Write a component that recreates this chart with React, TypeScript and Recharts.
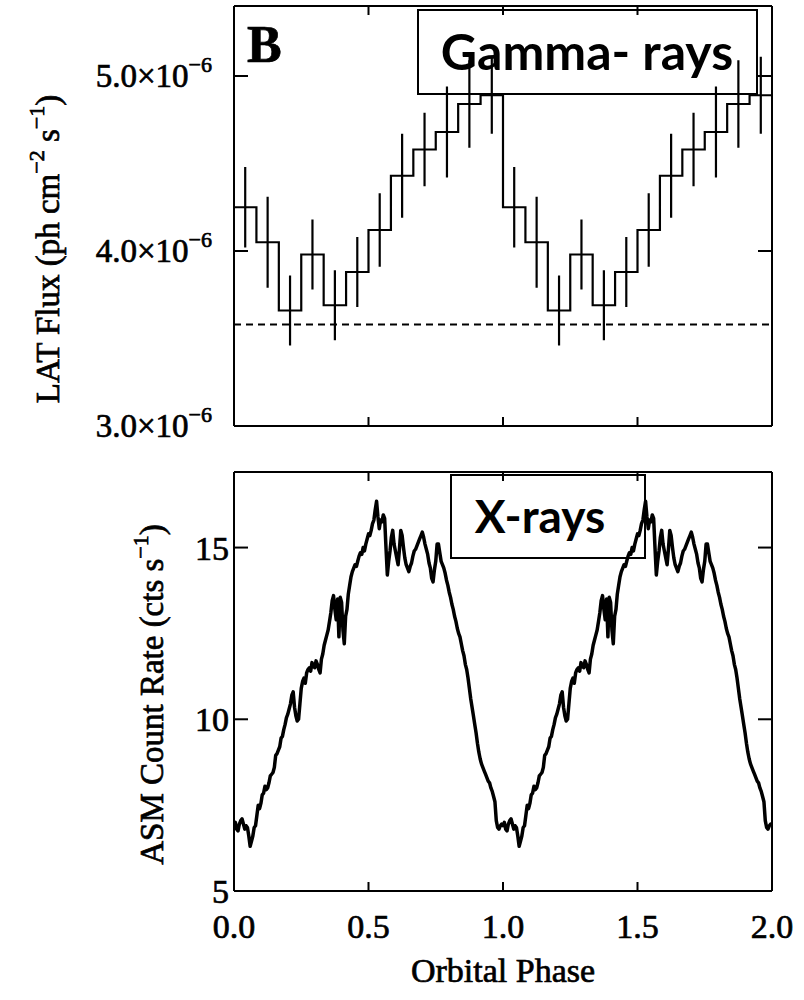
import React from 'react';
import { ComposedChart, Line, XAxis, YAxis, ErrorBar, ReferenceLine, Label } from 'recharts';

// LAT gamma-ray flux, folded on the orbital period (12 phase bins)
const latFlux = [4.25e-6, 4.05e-6, 3.66e-6, 3.98e-6, 3.69e-6, 3.88e-6, 4.12e-6, 4.43e-6, 4.58e-6, 4.68e-6, 4.84e-6, 4.89e-6];
const latErr = [0.23e-6, 0.26e-6, 0.2e-6, 0.2e-6, 0.2e-6, 0.2e-6, 0.21e-6, 0.24e-6, 0.21e-6, 0.26e-6, 0.25e-6, 0.22e-6];
const latBaseline = 3.58e-6;

// ASM count rate over one orbit, sampled every 0.005 in phase
const asmRate = [
  6.9, 7.0, 6.8, 6.75, 6.95, 7.05, 7.1, 6.95, 6.8, 6.9,
  6.85, 6.6, 6.3, 6.45, 6.6, 6.85, 6.9, 7.2, 7.5, 7.4,
  7.55, 7.8, 7.85, 8.05, 7.95, 8.0, 8.15, 8.35, 8.4, 8.45,
  8.6, 8.95, 9.0, 9.1, 9.2, 9.45, 9.5, 9.7, 9.85, 10.05,
  10.15, 10.3, 10.45, 10.7, 10.8, 10.35, 10.1, 9.95, 10.0, 10.45,
  10.9, 11.1, 11.2, 11.05, 11.35, 11.45, 11.5, 11.4, 11.65, 11.55,
  11.5, 11.7, 11.6, 11.45, 11.35, 11.75, 11.9, 12.15, 12.3, 12.45,
  12.6, 12.85, 13.1, 13.45, 13.6, 13.2, 12.9, 13.5, 12.4, 13.55,
  13.4, 12.6, 12.2, 13.0, 13.2, 13.65, 13.9, 14.15, 14.3, 14.4,
  14.5, 14.45, 14.6, 14.75, 14.85, 14.8, 15.0, 14.9, 15.1, 15.25,
  15.4, 15.35, 15.5, 15.7, 15.8, 16.1, 16.35, 15.9, 15.55, 15.8,
  15.75, 15.95, 15.85, 15.0, 14.2, 14.6, 14.9, 15.3, 15.5, 15.1,
  14.9, 14.7, 14.5, 14.95, 15.5, 15.35, 15.0, 14.7, 14.5, 14.4,
  14.3, 14.45, 14.55, 14.75, 14.9, 14.95, 15.05, 15.15, 15.25, 15.35,
  15.45, 15.3, 15.1, 14.95, 14.8, 14.55, 14.4, 14.1, 14.0, 14.35,
  14.6, 15.1, 15.1, 14.85, 14.6, 14.5, 14.4, 14.25, 14.05, 13.9,
  13.7, 13.55, 13.35, 13.2, 13.0, 12.85, 12.65, 12.5, 12.4, 12.2,
  12.0, 11.85, 11.6, 11.45, 11.2, 10.9, 10.6, 10.35, 10.1, 9.85,
  9.6, 9.3, 9.05, 8.85, 8.7, 8.6, 8.5, 8.4, 8.3, 8.2,
  8.15, 8.0, 7.9, 7.75, 7.6, 7.05, 6.85, 6.8, 6.9, 6.95,
];

const phaseTicks = [0, 0.5, 1, 1.5, 2];
const latTicks = [3e-6, 4e-6, 5e-6];
const asmTicks = [5, 10, 15];

const CYCLES = 2;

// histogram outline: one point per bin edge, drawn as stepAfter
const latSteps: { phase: number; flux: number }[] = [];
const latPoints: { phase: number; flux: number; err: number }[] = [];
for (let c = 0; c < CYCLES; c++) {
  latFlux.forEach((f, i) => {
    latSteps.push({ phase: c + i / latFlux.length, flux: f });
    latPoints.push({ phase: c + (i + 0.5) / latFlux.length, flux: f, err: latErr[i] });
  });
}
latSteps.push({ phase: CYCLES, flux: latFlux[latFlux.length - 1] });

const asmPoints: { phase: number; rate: number }[] = [];
for (let c = 0; c < CYCLES; c++) {
  asmRate.forEach((r, i) => asmPoints.push({ phase: c + i / asmRate.length, rate: r }));
}
asmPoints.push({ phase: CYCLES, rate: asmRate[0] });

// heavy print-style serif: a thin outline thickens the glyphs
const serif = {
  fontFamily: '"Liberation Serif", "Times New Roman", serif',
  stroke: '#000',
  strokeWidth: 0.7,
};
const sans = { fontFamily: 'Lato, "Liberation Sans", sans-serif', fontWeight: 700 };
const PLOT_W = 538;
const TOP_H = 420;
const BOT_H = 419;

const XTick = (props: any) => {
  const { x, y, payload, plotH, showLabel } = props;
  return (
    <g>
      <line x1={x} y1={y} x2={x} y2={y - 9} stroke="#000" strokeWidth={2} />
      <line x1={x} y1={y - plotH} x2={x} y2={y - plotH + 9} stroke="#000" strokeWidth={2} />
      {showLabel && (
        <text x={x} y={y + 47} textAnchor="middle" fontSize={34} style={serif} fill="#000">
          {payload.value.toFixed(1)}
        </text>
      )}
    </g>
  );
};

const YTickMarks = ({ x, y }: { x: number; y: number }) => (
  <>
    <line x1={x} y1={y} x2={x + 14} y2={y} stroke="#000" strokeWidth={2} />
    <line x1={x + PLOT_W} y1={y} x2={x + PLOT_W - 14} y2={y} stroke="#000" strokeWidth={2} />
  </>
);

const LatTick = (props: any) => {
  const { x, y, payload } = props;
  const mant = (payload.value * 1e6).toFixed(1);
  return (
    <g>
      <YTickMarks x={x} y={y} />
      <text x={x - 22} y={y + 11} textAnchor="end" fontSize={33} style={serif} fill="#000">
        {mant}×10<tspan dy={-15} fontSize={22}>−6</tspan>
      </text>
    </g>
  );
};

const AsmTick = (props: any) => {
  const { x, y, payload } = props;
  return (
    <g>
      <YTickMarks x={x} y={y} />
      <text x={x - 5} y={y + 12} textAnchor="end" fontSize={34} style={serif} fill="#000">
        {payload.value}
      </text>
    </g>
  );
};

// rotated axis title; parts flagged sup are raised
const YTitle = ({ viewBox, dx, dy, parts }: any) => {
  const cx = viewBox.x + dx;
  const cy = viewBox.y + viewBox.height / 2 + dy;
  return (
    <text
      x={cx}
      y={cy}
      transform={`rotate(-90, ${cx}, ${cy})`}
      textAnchor="middle"
      fontSize={33}
      style={serif}
      fill="#000"
    >
      {parts.map((p: any, i: number) =>
        p.sup ? (
          <tspan key={i} dy={-15} fontSize={22}>{p.t}</tspan>
        ) : (
          <tspan key={i} dy={i > 0 && parts[i - 1].sup ? 15 : 0}>{p.t}</tspan>
        )
      )}
    </text>
  );
};

const latTitle = [{ t: 'LAT Flux (ph cm' }, { t: '−2', sup: true }, { t: ' s' }, { t: '−1', sup: true }, { t: ')' }];
const asmTitle = [{ t: 'ASM Count Rate (cts s' }, { t: '−1', sup: true }, { t: ')' }];

export default function App() {
  return (
    <div style={{ position: 'absolute', left: 0, top: 0, width: 804, height: 1000, background: '#fff' }}>
      <div style={{ position: 'absolute', left: 0, top: 0 }}>
        <ComposedChart width={804} height={470} margin={{ top: 6, right: 32, bottom: 0, left: 174 }}>
          <XAxis
            dataKey="phase"
            type="number"
            domain={[0, 2]}
            ticks={phaseTicks}
            height={44}
            tickSize={0}
            tickMargin={0}
            tickLine={false}
            axisLine={{ stroke: '#000', strokeWidth: 2 }}
            tick={<XTick plotH={TOP_H} showLabel={false} />}
            allowDataOverflow
          />
          <YAxis
            type="number"
            domain={[3e-6, 5.4e-6]}
            ticks={latTicks}
            width={60}
            tickSize={0}
            tickMargin={0}
            tickLine={false}
            axisLine={{ stroke: '#000', strokeWidth: 2 }}
            tick={<LatTick />}
            allowDataOverflow
            label={<Label content={(p: any) => <YTitle {...p} dx={-115} dy={33} parts={latTitle} />} />}
          />
          <ReferenceLine y={5.4e-6} stroke="#000" strokeWidth={2} />
          <ReferenceLine x={2} stroke="#000" strokeWidth={2} />
          <ReferenceLine y={latBaseline} stroke="#000" strokeWidth={2} strokeDasharray="7 5" />
          <Line
            data={latSteps}
            dataKey="flux"
            type="stepAfter"
            stroke="#000"
            strokeWidth={2.2}
            dot={false}
            activeDot={false}
            isAnimationActive={false}
          />
          <Line
            data={latPoints}
            dataKey="flux"
            stroke="none"
            dot={false}
            activeDot={false}
            isAnimationActive={false}
          >
            <ErrorBar dataKey="err" direction="y" width={0} stroke="#000" strokeWidth={2.2} isAnimationActive={false} />
          </Line>
        </ComposedChart>
      </div>

      <div style={{ position: 'absolute', left: 0, top: 440 }}>
        <ComposedChart width={804} height={560} margin={{ top: 32, right: 32, bottom: 0, left: 174 }}>
          <XAxis
            dataKey="phase"
            type="number"
            domain={[0, 2]}
            ticks={phaseTicks}
            height={109}
            tickSize={0}
            tickMargin={0}
            tickLine={false}
            axisLine={{ stroke: '#000', strokeWidth: 2 }}
            tick={<XTick plotH={BOT_H} showLabel />}
            allowDataOverflow
            label={
              <Label
                content={({ viewBox }: any) => (
                  <text
                    x={viewBox.x + viewBox.width / 2}
                    y={viewBox.y + 91}
                    textAnchor="middle"
                    fontSize={34}
                    style={serif}
                    fill="#000"
                  >
                    Orbital Phase
                  </text>
                )}
              />
            }
          />
          <YAxis
            type="number"
            domain={[5, 17.2]}
            ticks={asmTicks}
            width={60}
            tickSize={0}
            tickMargin={0}
            tickLine={false}
            axisLine={{ stroke: '#000', strokeWidth: 2 }}
            tick={<AsmTick />}
            allowDataOverflow
            label={<Label content={(p: any) => <YTitle {...p} dx={-11} dy={13} parts={asmTitle} />} />}
          />
          <ReferenceLine y={17.2} stroke="#000" strokeWidth={2} />
          <ReferenceLine x={2} stroke="#000" strokeWidth={2} />
          <Line
            data={asmPoints}
            dataKey="rate"
            type="linear"
            stroke="#000"
            strokeWidth={3.5}
            strokeLinejoin="round"
            dot={false}
            activeDot={false}
            isAnimationActive={false}
          />
        </ComposedChart>
      </div>

      <svg width={804} height={1000} style={{ position: 'absolute', left: 0, top: 0, pointerEvents: 'none' }}>
        <text x={247} y={62} fontSize={52} style={{ ...serif, fontWeight: 700 }} fill="#000">B</text>
        <rect x={418} y={10} width={339} height={84} fill="none" stroke="#000" strokeWidth={2} />
        <text x={587} y={70} textAnchor="middle" fontSize={50} style={sans} fill="#000">
          Gamma- rays
        </text>
        <rect x={451} y={475} width={194} height={83} fill="none" stroke="#000" strokeWidth={2} />
        <text x={540} y={533} textAnchor="middle" fontSize={46} style={sans} fill="#000">
          X-rays
        </text>
      </svg>
    </div>
  );
}
